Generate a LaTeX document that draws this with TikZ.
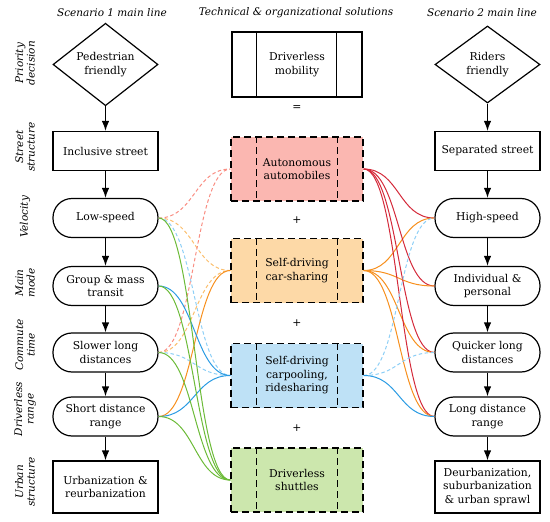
\documentclass[tikz,border=0pt]{standalone}
\usepackage{fontspec}
\setmainfont{DejaVu Serif}
\usetikzlibrary{arrows.meta, shapes.geometric}
\definecolor{redfill}{HTML}{FBB7B1}
\definecolor{orangefill}{HTML}{FDD9A7}
\definecolor{bluefill}{HTML}{BEE1F6}
\definecolor{greenfill}{HTML}{CCE7AD}
\definecolor{redline}{HTML}{D42A3A}
\definecolor{orangeline}{HTML}{F7901E}
\definecolor{blueline}{HTML}{2A9BE3}
\definecolor{greenline}{HTML}{6CBB38}
\definecolor{redlight}{HTML}{F98D82}
\definecolor{orangelight}{HTML}{FBBE6C}
\definecolor{bluelight}{HTML}{8ECFF6}

\begin{document}
\begin{tikzpicture}[
    x=1pt, y=-1pt,
    >={Latex[length=10pt, width=7.5pt]},
    every node/.style={font=\fontsize{10.8}{13.5}\selectfont, align=center},
    decision/.style={draw, line width=1.2pt, diamond, minimum width=105pt, minimum height=77pt, inner sep=0pt},
    plainbox/.style={draw, line width=1.2pt, minimum width=105pt, minimum height=#1},
    roundbox/.style={draw, line width=1.2pt, rounded corners=19pt, minimum width=105pt, minimum height=39pt},
    solution/.style={draw, line width=1.2pt, dash pattern=on 7pt off 4pt, fill=#1, minimum width=132pt, minimum height=64pt},
    header/.style={font=\fontsize{10.5}{12}\selectfont\itshape},
    rowlabel/.style={rotate=90, font=\fontsize{10.5}{11.5}\selectfont\itshape},
    link/.style={line width=1pt, to path={.. controls +(36,0) and +(-36,0) .. (\tikztotarget)}},
    faint/.style={link, dash pattern=on 3.5pt off 2.5pt},
]
    \useasboundingbox (0,0) rectangle (550,522);

    % Column headers
    \node[header] (h1) at (112, 13) {Scenario 1 main line};
    \node[header] (h2) at (296, 13) {Technical \& organizational solutions};
    \node[header] (h3) at (482, 13) {Scenario 2 main line};

    % Row labels
    \node[rowlabel] (r1) at (25, 63) {Priority\\decision};
    \node[rowlabel] (r2) at (25, 147) {Street\\structure};
    \node[rowlabel] (r3) at (25, 217) {Velocity};
    \node[rowlabel] (r4) at (25, 283) {Main\\mode};
    \node[rowlabel] (r5) at (25, 345) {Commute\\time};
    \node[rowlabel] (r6) at (25, 409) {Driverless\\range};
    \node[rowlabel] (r7) at (25, 482) {Urban\\structure};

    % Scenario 1
    \node[decision] (pf) at (105.5, 64.5) {Pedestrian\\friendly};
    \node[plainbox=39pt] (is) at (105.5, 151) {Inclusive street};
    \node[roundbox] (ls) at (105.5, 218) {Low-speed};
    \node[roundbox] (gm) at (105.5, 286) {Group \& mass\\transit};
    \node[roundbox] (sl) at (105.5, 352.5) {Slower long\\distances};
    \node[roundbox] (sd) at (105.5, 416.5) {Short distance\\range};
    \node[plainbox=52pt] (ur) at (105.5, 487) {Urbanization \&\\reurbanization};

    % Scenario 2
    \node[decision] (rf) at (487.5, 64.5) {Riders\\friendly};
    \node[plainbox=39pt] (ss) at (487.5, 151) {Separated street};
    \node[roundbox] (hs) at (487.5, 218) {High-speed};
    \node[roundbox] (ip) at (487.5, 286) {Individual \&\\personal};
    \node[roundbox] (ql) at (487.5, 352.5) {Quicker long\\distances};
    \node[roundbox] (ld) at (487.5, 416.5) {Long distance\\range};
    \node[plainbox=52pt] (de) at (487.5, 487) {Deurbanization,\\suburbanization\\\& urban sprawl};

    \foreach \a/\b in {pf/is, is/ls, ls/gm, gm/sl, sl/sd, sd/ur, rf/ss, ss/hs, hs/ip, ip/ql, ql/ld, ld/de}
        \draw[->, line width=1.2pt] (\a) -- (\b);

    % Solutions
    \node[draw, line width=1.2pt, minimum width=130pt, minimum height=65pt] (dm) at (297, 64.5) {Driverless\\mobility};
    \draw[line width=1.2pt] ([xshift=25pt]dm.north west) -- ([xshift=25pt]dm.south west);
    \draw[line width=1.2pt] ([xshift=-26pt]dm.north east) -- ([xshift=-26pt]dm.south east);
    \node (eq) at (297, 108) {=};

    \node[solution=redfill] (aa) at (297, 169) {Autonomous\\automobiles};
    \node (p1) at (297, 220) {+};
    \node[solution=orangefill] (cs) at (297, 270.5) {Self-driving\\car-sharing};
    \node (p2) at (297, 323) {+};
    \node[solution=bluefill] (cp) at (297, 375.5) {Self-driving\\carpooling,\\ridesharing};
    \node (p3) at (297, 428) {+};
    \node[solution=greenfill] (ds) at (297, 480) {Driverless\\shuttles};

    \foreach \n in {aa, cs, cp, ds} {
        \draw[line width=1.2pt, dash pattern=on 7pt off 4pt] ([xshift=26pt]\n.north west) -- ([xshift=26pt]\n.south west);
        \draw[line width=1.2pt, dash pattern=on 7pt off 4pt] ([xshift=-26pt]\n.north east) -- ([xshift=-26pt]\n.south east);
    }

    % Links to scenario 1
    \draw[faint, redlight] (ls.east) to (aa.west);
    \draw[faint, orangelight] (ls.east) to (cs.west);
    \draw[faint, bluelight] (ls.east) to (cp.west);
    \draw[faint, redlight] (sl.east) to (aa.west);
    \draw[faint, orangelight] (sl.east) to (cs.west);
    \draw[faint, bluelight] (sl.east) to (cp.west);
    \draw[link, orangeline] (sd.east) to (cs.west);
    \draw[link, blueline] (gm.east) to (cp.west);
    \draw[link, blueline] (sd.east) to (cp.west);
    \foreach \a in {ls, gm, sl, sd}
        \draw[link, greenline] (\a.east) to (ds.west);

    % Links to scenario 2
    \foreach \b in {hs, ip, ql, ld} {
        \draw[link, redline] (aa.east) to (\b.west);
        \draw[link, orangeline] (cs.east) to (\b.west);
    }
    \draw[faint, bluelight] (cp.east) to (hs.west);
    \draw[faint, bluelight] (cp.east) to (ql.west);
    \draw[link, blueline] (cp.east) to (ld.west);
\end{tikzpicture}
\end{document}
